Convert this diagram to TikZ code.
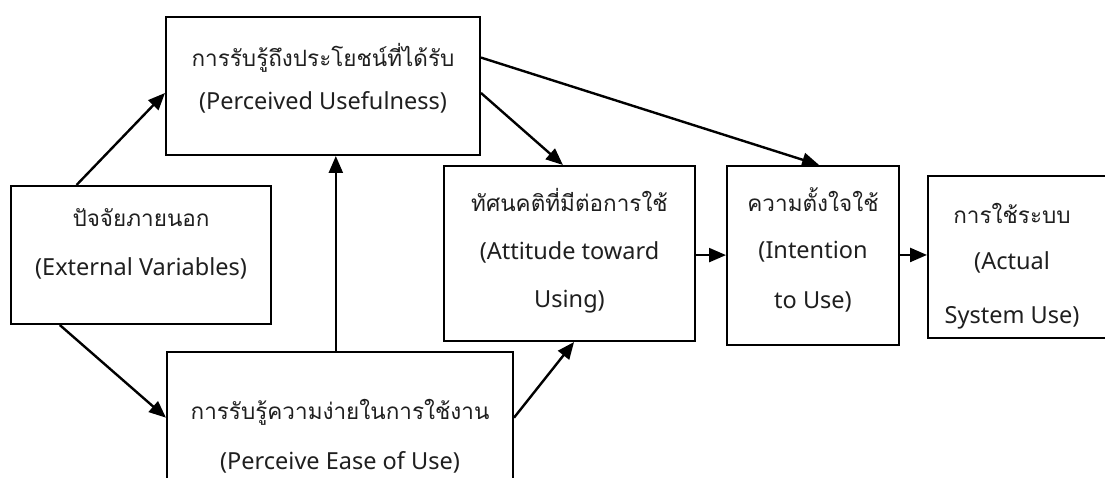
\documentclass[tikz,border=0pt]{standalone}
\usepackage{fontspec}
\setmainfont{Noto Sans}
\newfontfamily\thai[Script=Thai]{Loma}
\usetikzlibrary{calc,arrows.meta}
\tikzset{
  box/.style={draw=black, line width=2pt, fill=white, inner sep=0pt},
  lbl/.style={inner sep=0pt, font=\fontsize{23.5}{28}\selectfont, text=black!88},
  tlbl/.style={inner sep=0pt, font=\thai\fontsize{22.5}{27}\selectfont, text=black!88},
  arr/.style={line width=2.4pt, -{Triangle[length=17pt,width=14pt]}},
}
\begin{document}
\begin{tikzpicture}[x=1pt,y=-1pt]
\useasboundingbox (0,0) rectangle (1105,478);
% boxes
\node[box, minimum width=314pt, minimum height=138pt] (pu) at (323,86) {};
\node[box, minimum width=260pt, minimum height=138pt] (ev) at (141,255) {};
\node[box, minimum width=346pt, minimum height=143pt] (peou) at (340,423.5) {};
\node[box, minimum width=251pt, minimum height=175pt] (atu) at (569.5,253.5) {};
\node[box, minimum width=172pt, minimum height=179pt] (iu) at (813,255.5) {};
\node[box, minimum width=182pt, minimum height=162pt] (asu) at (1019,257) {};
% texts
\node[tlbl] (pu1) at (323,58) {การรับรู้ถึงประโยชน์ที่ได้รับ};
\node[lbl] (pu2) at (323,102) {(Perceived Usefulness)};
\node[tlbl] (ev1) at (141,218) {ปัจจัยภายนอก};
\node[lbl] (ev2) at (141,268) {(External Variables)};
\node[tlbl] (at1) at (569.5,200) {ทัศนคติที่มีต่อการใช้};
\node[lbl] (at2) at (569.5,252) {(Attitude toward};
\node[lbl] (at3) at (569.5,302) {Using)};
\node[tlbl] (iu1) at (813,200) {ความตั้งใจใช้};
\node[lbl] (iu2) at (813,252) {(Intention};
\node[lbl] (iu3) at (813,302) {to Use)};
\node[tlbl] (as1) at (1012,213) {การใช้ระบบ};
\node[lbl] (as2) at (1012,262) {(Actual};
\node[lbl] (as3) at (1012,318) {System Use)};
\node[tlbl] (pe1) at (340,412) {การรับรู้ความง่ายในการใช้งาน};
\node[lbl] (pe2) at (340,462) {(Perceive Ease of Use)};
% connectors
\draw[arr] ($(ev.north west)!0.254!(ev.north east)$) -- ($(pu.north west)!0.55!(pu.south west)$);
\draw[arr] ($(ev.south west)!0.19!(ev.south east)$) -- ($(peou.north west)!0.46!(peou.south west)$);
\draw[arr] ($(peou.north west)!0.488!(peou.north east)$) coordinate (pv) -- (pv |- pu.south);
\draw[arr] ($(pu.north east)!0.55!(pu.south east)$) -- ($(atu.north west)!0.474!(atu.north east)$);
\draw[arr] ($(pu.north east)!0.297!(pu.south east)$) -- ($(iu.north west)!0.535!(iu.north east)$);
\draw[arr] ($(peou.north east)!0.46!(peou.south east)$) -- ($(atu.south west)!0.518!(atu.south east)$);
\draw[arr] ($(atu.north east)!0.509!(atu.south east)$) coordinate (ae) -- (ae -| iu.west);
\draw[arr] ($(iu.north east)!0.497!(iu.south east)$) coordinate (ie) -- (ie -| asu.west);
\end{tikzpicture}
\end{document}
